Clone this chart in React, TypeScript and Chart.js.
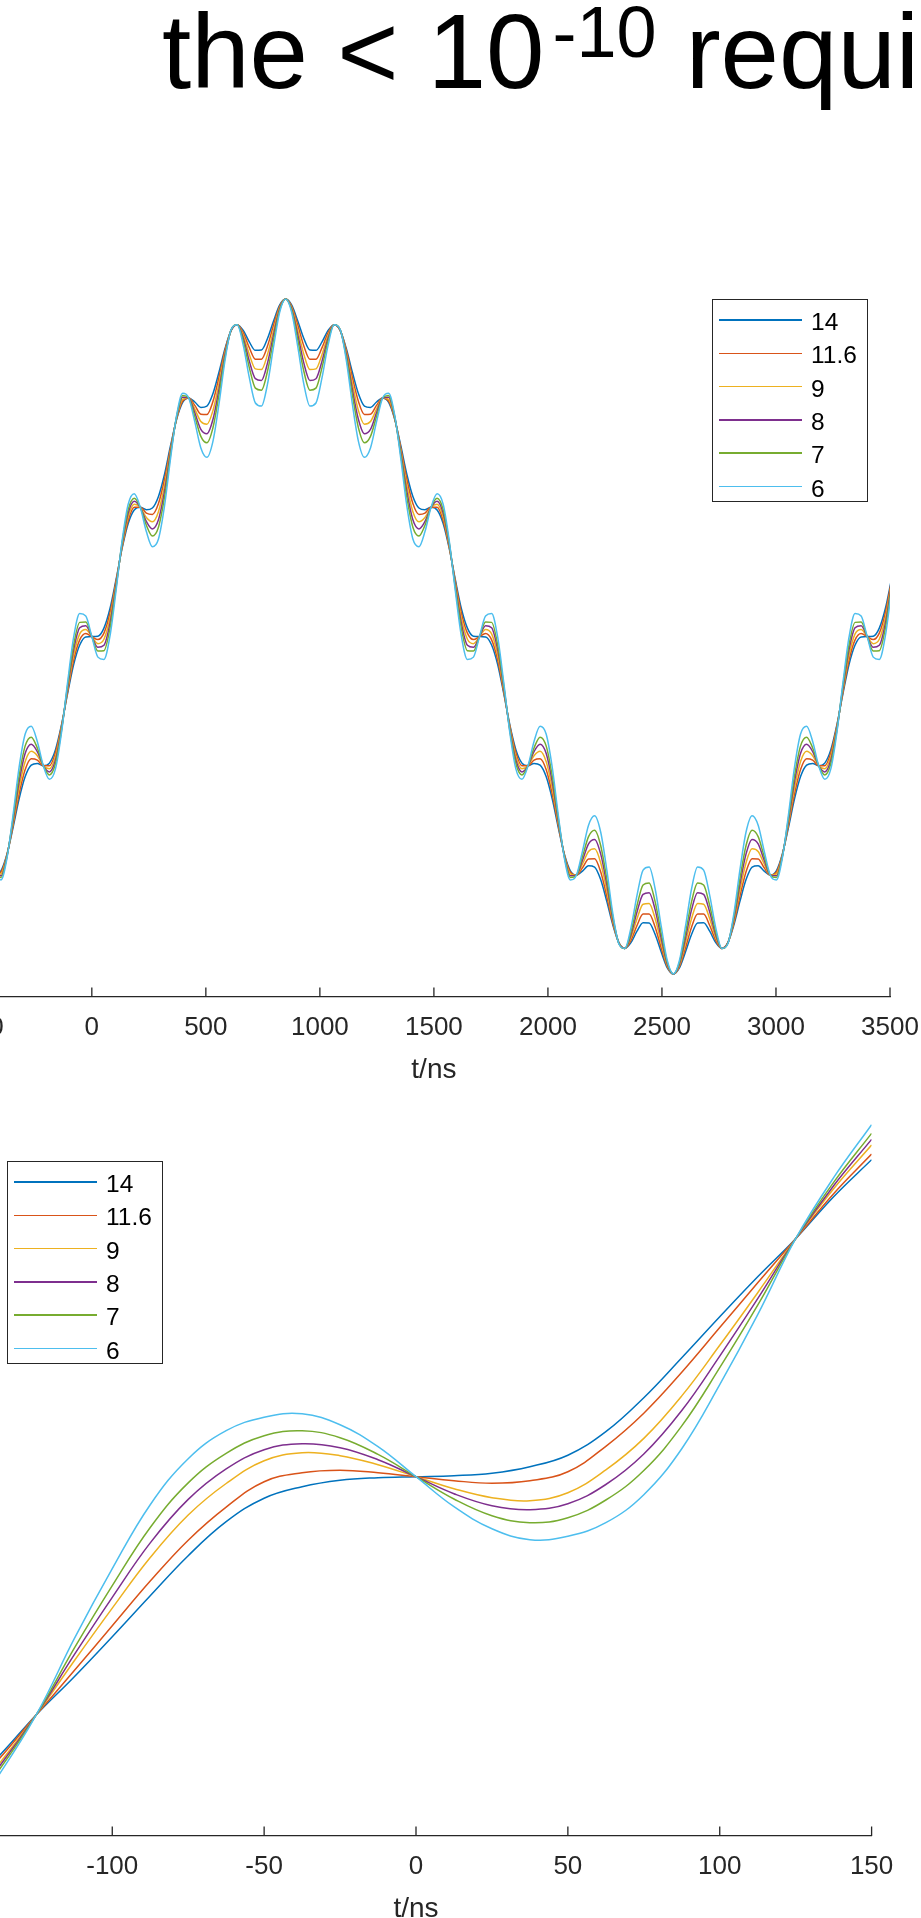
import React, { useEffect, useRef } from 'react';
import { Chart, registerables } from 'chart.js';

Chart.register(...registerables);

const FONT = "'Liberation Sans', Arial, Helvetica, sans-serif";
const AXIS_COLOR = '#262626';

const seriesLabels = ['14', '11.6', '9', '8', '7', '6'];
const seriesColors = ['#0072BD', '#D95319', '#EDB120', '#7E2F8E', '#77AC30', '#4DBEEE'];

// ---------- top plot (t in ns, normalized amplitude) ----------
const topTimes = [
  -425, -398.4, -371.9, -345.3, -318.8, -292.2, -265.6, -239.1,
  -212.5, -185.9, -159.4, -132.8, -106.3, -79.7, -53.1, -26.6,
  0, 26.6, 53.1, 79.7, 106.3, 132.8, 159.4, 185.9,
  212.5, 239.1, 265.6, 292.2, 318.8, 345.3, 371.9, 398.4,
  425, 451.6, 478.1, 504.7, 531.3, 557.8, 584.4, 610.9,
  637.5, 664.1, 690.6, 717.2, 743.8, 770.3, 796.9, 823.4,
  850, 876.6, 903.1, 929.7, 956.3, 982.8, 1009.4, 1035.9,
  1062.5, 1089.1, 1115.6, 1142.2, 1168.8, 1195.3, 1221.9, 1248.4,
  1275, 1301.6, 1328.1, 1354.7, 1381.3, 1407.8, 1434.4, 1460.9,
  1487.5, 1514.1, 1540.6, 1567.2, 1593.8, 1620.3, 1646.9, 1673.4,
  1700, 1726.6, 1753.1, 1779.7, 1806.3, 1832.8, 1859.4, 1885.9,
  1912.5, 1939.1, 1965.6, 1992.2, 2018.8, 2045.3, 2071.9, 2098.4,
  2125, 2151.6, 2178.1, 2204.7, 2231.3, 2257.8, 2284.4, 2310.9,
  2337.5, 2364.1, 2390.6, 2417.2, 2443.8, 2470.3, 2496.9, 2523.4,
  2550, 2576.6, 2603.1, 2629.7, 2656.3, 2682.8, 2709.4, 2735.9,
  2762.5, 2789.1, 2815.6, 2842.2, 2868.8, 2895.3, 2921.9, 2948.4,
  2975, 3001.6, 3028.1, 3054.7, 3081.3, 3107.8, 3134.4, 3160.9,
  3187.5, 3214.1, 3240.6, 3267.2, 3293.8, 3320.3, 3346.9, 3373.4,
  3400, 3426.6, 3453.1, 3479.7, 3506.3,
];

const top14 = [
  -0.707, -0.694, -0.644, -0.566, -0.481, -0.415, -0.381, -0.376, -0.383, -0.375, -0.335, -0.261, -0.169, -0.083, -0.025, -0.001,
  0, 0.001, 0.025, 0.083, 0.169, 0.261, 0.335, 0.375, 0.383, 0.376, 0.381, 0.415, 0.481, 0.566, 0.644, 0.694, 0.707, 0.695, 0.679, 0.683, 0.72, 0.784, 0.854, 0.907, 0.924, 0.907, 0.873, 0.848, 0.849, 0.883, 0.935, 0.982, 1,
  0.982, 0.935, 0.883, 0.849, 0.848, 0.873, 0.907, 0.924, 0.907, 0.854, 0.784, 0.72, 0.683, 0.679, 0.695, 0.707, 0.694, 0.644, 0.566, 0.481, 0.415, 0.381, 0.376, 0.383, 0.375, 0.335, 0.261, 0.169, 0.083, 0.025, 0.001, 0,
  -0.001, -0.025, -0.083, -0.169, -0.261, -0.335, -0.375, -0.383, -0.376, -0.381, -0.415, -0.481, -0.566, -0.644, -0.694, -0.707, -0.695, -0.679, -0.683, -0.72, -0.784, -0.854, -0.907, -0.924, -0.907, -0.873, -0.848, -0.849, -0.883, -0.935, -0.982, -1,
  -0.982, -0.935, -0.883, -0.849, -0.848, -0.873, -0.907, -0.924, -0.907, -0.854, -0.784, -0.72, -0.683, -0.679, -0.695, -0.707, -0.694, -0.644, -0.566, -0.481, -0.415, -0.381, -0.376, -0.383, -0.375, -0.335, -0.261, -0.169, -0.083, -0.025, -0.001, 0,
  0.001, 0.025, 0.083, 0.169,
];

const top11_6 = [
  -0.707, -0.698, -0.646, -0.559, -0.466, -0.394, -0.362, -0.366, -0.383, -0.383, -0.344, -0.265, -0.164, -0.07, -0.01, 0.009,
  0, -0.009, 0.01, 0.07, 0.164, 0.265, 0.344, 0.383, 0.383, 0.366, 0.362, 0.394, 0.466, 0.559, 0.646, 0.698, 0.707, 0.685, 0.659, 0.658, 0.697, 0.769, 0.849, 0.907, 0.924, 0.9, 0.856, 0.822, 0.822, 0.861, 0.923, 0.978, 1,
  0.978, 0.923, 0.861, 0.822, 0.822, 0.856, 0.9, 0.924, 0.907, 0.849, 0.769, 0.697, 0.658, 0.659, 0.685, 0.707, 0.698, 0.646, 0.559, 0.466, 0.394, 0.362, 0.366, 0.383, 0.383, 0.344, 0.265, 0.164, 0.07, 0.01, -0.009, 0,
  0.009, -0.01, -0.07, -0.164, -0.265, -0.344, -0.383, -0.383, -0.366, -0.362, -0.394, -0.466, -0.559, -0.646, -0.698, -0.707, -0.685, -0.659, -0.658, -0.697, -0.769, -0.849, -0.907, -0.924, -0.9, -0.856, -0.822, -0.822, -0.861, -0.923, -0.978, -1,
  -0.978, -0.923, -0.861, -0.822, -0.822, -0.856, -0.9, -0.924, -0.907, -0.849, -0.769, -0.697, -0.658, -0.659, -0.685, -0.707, -0.698, -0.646, -0.559, -0.466, -0.394, -0.362, -0.366, -0.383, -0.383, -0.344, -0.265, -0.164, -0.07, -0.01, 0.009, 0,
  -0.009, 0.01, 0.07, 0.164,
];

const top9 = [
  -0.707, -0.703, -0.648, -0.552, -0.448, -0.37, -0.34, -0.353, -0.383, -0.392, -0.355, -0.269, -0.157, -0.055, 0.008, 0.021,
  0, -0.021, -0.008, 0.055, 0.157, 0.269, 0.355, 0.392, 0.383, 0.353, 0.34, 0.37, 0.448, 0.552, 0.648, 0.703, 0.707, 0.674, 0.637, 0.629, 0.67, 0.751, 0.842, 0.908, 0.924, 0.892, 0.836, 0.793, 0.791, 0.836, 0.908, 0.974, 1,
  0.974, 0.908, 0.836, 0.791, 0.793, 0.836, 0.892, 0.924, 0.908, 0.842, 0.751, 0.67, 0.629, 0.637, 0.674, 0.707, 0.703, 0.648, 0.552, 0.448, 0.37, 0.34, 0.353, 0.383, 0.392, 0.355, 0.269, 0.157, 0.055, -0.008, -0.021, 0,
  0.021, 0.008, -0.055, -0.157, -0.269, -0.355, -0.392, -0.383, -0.353, -0.34, -0.37, -0.448, -0.552, -0.648, -0.703, -0.707, -0.674, -0.637, -0.629, -0.67, -0.751, -0.842, -0.908, -0.924, -0.892, -0.836, -0.793, -0.791, -0.836, -0.908, -0.974, -1,
  -0.974, -0.908, -0.836, -0.791, -0.793, -0.836, -0.892, -0.924, -0.908, -0.842, -0.751, -0.67, -0.629, -0.637, -0.674, -0.707, -0.703, -0.648, -0.552, -0.448, -0.37, -0.34, -0.353, -0.383, -0.392, -0.355, -0.269, -0.157, -0.055, 0.008, 0.021, 0,
  -0.021, -0.008, 0.055, 0.157,
];

const top8 = [
  -0.707, -0.709, -0.65, -0.545, -0.43, -0.346, -0.319, -0.341, -0.383, -0.401, -0.366, -0.274, -0.151, -0.039, 0.026, 0.032,
  0, -0.032, -0.026, 0.039, 0.151, 0.274, 0.366, 0.401, 0.383, 0.341, 0.319, 0.346, 0.43, 0.545, 0.65, 0.709, 0.707, 0.663, 0.614, 0.601, 0.644, 0.733, 0.836, 0.908, 0.924, 0.884, 0.816, 0.764, 0.759, 0.81, 0.894, 0.97, 1,
  0.97, 0.894, 0.81, 0.759, 0.764, 0.816, 0.884, 0.924, 0.908, 0.836, 0.733, 0.644, 0.601, 0.614, 0.663, 0.707, 0.709, 0.65, 0.545, 0.43, 0.346, 0.319, 0.341, 0.383, 0.401, 0.366, 0.274, 0.151, 0.039, -0.026, -0.032, 0,
  0.032, 0.026, -0.039, -0.151, -0.274, -0.366, -0.401, -0.383, -0.341, -0.319, -0.346, -0.43, -0.545, -0.65, -0.709, -0.707, -0.663, -0.614, -0.601, -0.644, -0.733, -0.836, -0.908, -0.924, -0.884, -0.816, -0.764, -0.759, -0.81, -0.894, -0.97, -1,
  -0.97, -0.894, -0.81, -0.759, -0.764, -0.816, -0.884, -0.924, -0.908, -0.836, -0.733, -0.644, -0.601, -0.614, -0.663, -0.707, -0.709, -0.65, -0.545, -0.43, -0.346, -0.319, -0.341, -0.383, -0.401, -0.366, -0.274, -0.151, -0.039, 0.026, 0.032, 0,
  -0.032, -0.026, 0.039, 0.151,
];

const top7 = [
  -0.707, -0.714, -0.652, -0.538, -0.413, -0.324, -0.298, -0.33, -0.383, -0.41, -0.376, -0.278, -0.145, -0.025, 0.042, 0.043,
  0, -0.043, -0.042, 0.025, 0.145, 0.278, 0.376, 0.41, 0.383, 0.33, 0.298, 0.324, 0.413, 0.538, 0.652, 0.714, 0.707, 0.652, 0.593, 0.574, 0.619, 0.717, 0.829, 0.909, 0.924, 0.876, 0.797, 0.736, 0.73, 0.786, 0.88, 0.966, 1,
  0.966, 0.88, 0.786, 0.73, 0.736, 0.797, 0.876, 0.924, 0.909, 0.829, 0.717, 0.619, 0.574, 0.593, 0.652, 0.707, 0.714, 0.652, 0.538, 0.413, 0.324, 0.298, 0.33, 0.383, 0.41, 0.376, 0.278, 0.145, 0.025, -0.042, -0.043, 0,
  0.043, 0.042, -0.025, -0.145, -0.278, -0.376, -0.41, -0.383, -0.33, -0.298, -0.324, -0.413, -0.538, -0.652, -0.714, -0.707, -0.652, -0.593, -0.574, -0.619, -0.717, -0.829, -0.909, -0.924, -0.876, -0.797, -0.736, -0.73, -0.786, -0.88, -0.966, -1,
  -0.966, -0.88, -0.786, -0.73, -0.736, -0.797, -0.876, -0.924, -0.909, -0.829, -0.717, -0.619, -0.574, -0.593, -0.652, -0.707, -0.714, -0.652, -0.538, -0.413, -0.324, -0.298, -0.33, -0.383, -0.41, -0.376, -0.278, -0.145, -0.025, 0.042, 0.043, 0,
  -0.043, -0.042, 0.025, 0.145,
];

const top6 = [
  -0.707, -0.721, -0.656, -0.528, -0.387, -0.289, -0.266, -0.311, -0.383, -0.423, -0.392, -0.284, -0.136, -0.002, 0.068, 0.061,
  0, -0.061, -0.068, 0.002, 0.136, 0.284, 0.392, 0.423, 0.383, 0.311, 0.266, 0.289, 0.387, 0.528, 0.656, 0.721, 0.707, 0.636, 0.559, 0.531, 0.579, 0.69, 0.82, 0.91, 0.924, 0.863, 0.767, 0.692, 0.683, 0.748, 0.859, 0.96, 1,
  0.96, 0.859, 0.748, 0.683, 0.692, 0.767, 0.863, 0.924, 0.91, 0.82, 0.69, 0.579, 0.531, 0.559, 0.636, 0.707, 0.721, 0.656, 0.528, 0.387, 0.289, 0.266, 0.311, 0.383, 0.423, 0.392, 0.284, 0.136, 0.002, -0.068, -0.061, 0,
  0.061, 0.068, -0.002, -0.136, -0.284, -0.392, -0.423, -0.383, -0.311, -0.266, -0.289, -0.387, -0.528, -0.656, -0.721, -0.707, -0.636, -0.559, -0.531, -0.579, -0.69, -0.82, -0.91, -0.924, -0.863, -0.767, -0.692, -0.683, -0.748, -0.859, -0.96, -1,
  -0.96, -0.859, -0.748, -0.683, -0.692, -0.767, -0.863, -0.924, -0.91, -0.82, -0.69, -0.579, -0.531, -0.559, -0.636, -0.707, -0.721, -0.656, -0.528, -0.387, -0.289, -0.266, -0.311, -0.383, -0.423, -0.392, -0.284, -0.136, -0.002, 0.068, 0.061, 0,
  -0.061, -0.068, 0.002, 0.136,
];

const topTickValues = [-500, 0, 500, 1000, 1500, 2000, 2500, 3000, 3500];

// ---------- bottom plot (t in ns, mV) ----------
const bottomTimes = [-150, -137.5, -125, -112.5, -100, -87.5, -75, -62.5, -50, -37.5, -25, -12.5, 0, 12.5, 25, 37.5, 50, 62.5, 75, 87.5, 100, 112.5, 125, 137.5, 150];
const bottom14 = [-317, -280, -238, -200, -160, -119, -79, -45, -21.5, -10, -3.5, -1, 0, 1, 3.5, 10, 21.5, 45, 79, 119, 160, 200, 238, 280, 317];
const bottom11_6 = [-322.6, -283, -238, -193.9, -149.1, -104.4, -63.5, -30.4, -5, 4, 6.5, 4, 0, -4, -6.5, -4, 5, 30.4, 63.5, 104.4, 149.1, 193.9, 238, 283, 322.6];
const bottom9 = [-331.7, -288, -238, -184, -131.4, -80.8, -38.3, -6.8, 16, 24, 21, 12, 0, -12, -21, -24, -16, 6.8, 38.3, 80.8, 131.4, 184, 238, 288, 331.7];
const bottom8 = [-337.3, -291, -238, -178, -120.6, -66.2, -22.7, 7.8, 27, 33, 29, 17, 0, -17, -29, -33, -27, -7.8, 22.7, 66.2, 120.6, 178, 238, 291, 337.3];
const bottom7 = [-343.3, -294.3, -238, -171.5, -109, -50.8, -6.2, 23.3, 41, 46, 39, 22.3, 0, -22.3, -39, -46, -41, -23.3, 6.2, 50.8, 109, 171.5, 238, 294.3, 343.3];
const bottom6 = [-352, -299, -238, -162, -92, -28, 18, 46, 59.5, 63, 52, 30, 0, -30, -52, -63, -59.5, -46, -18, 28, 92, 162, 238, 299, 352];
const bottomTickValues = [-150, -100, -50, 0, 50, 100, 150];

// MATLAB-style inward tick marks on the x axis
const inwardTicks = {
  id: 'inwardTicks',
  afterDraw(chart: any) {
    const s = chart.scales.x;
    const ctx = chart.ctx;
    ctx.save();
    ctx.strokeStyle = AXIS_COLOR;
    ctx.lineWidth = 1.3;
    ctx.beginPath();
    s.ticks.forEach((t: any) => {
      const px = s.getPixelForValue(t.value);
      ctx.moveTo(px, s.top);
      ctx.lineTo(px, s.top - 9.5);
    });
    ctx.stroke();
    ctx.restore();
  },
};

function buildConfig(
  times: number[],
  series: number[][],
  tickValues: number[],
  xMin: number,
  xMax: number,
  yMin: number,
  yMax: number,
  padding: { left: number; right: number; top: number; bottom: number },
  smooth: 'monotone' | 'default'
): any {
  return {
    type: 'line',
    data: {
      datasets: series.map((ys, i) => ({
        label: seriesLabels[i],
        data: times.map((t, j) => ({ x: t, y: ys[j] })),
        borderColor: seriesColors[i],
        backgroundColor: seriesColors[i],
        borderWidth: 1.5,
        pointRadius: 0,
        fill: false,
        cubicInterpolationMode: smooth,
        tension: 0.4,
        order: series.length - i,
      })),
    },
    options: {
      animation: false,
      responsive: false,
      devicePixelRatio: 1,
      events: [],
      layout: { padding },
      plugins: { legend: { display: false }, tooltip: { enabled: false }, title: { display: false } },
      scales: {
        x: {
          type: 'linear',
          min: xMin,
          max: xMax,
          afterBuildTicks: (axis: any) => {
            axis.ticks = tickValues.map((v) => ({ value: v }));
          },
          afterFit: (axis: any) => {
            axis.height = 100;
          },
          grid: { display: false, drawTicks: false },
          border: { display: true, color: AXIS_COLOR, width: 1.3 },
          ticks: {
            autoSkip: false,
            maxRotation: 0,
            minRotation: 0,
            padding: 15.7,
            color: AXIS_COLOR,
            font: { family: FONT, size: 26 },
            callback: (v: any) => String(v),
          },
          title: {
            display: true,
            text: 't/ns',
            color: AXIS_COLOR,
            font: { family: FONT, size: 28 },
            padding: { top: 0, bottom: 9.7 },
          },
        },
        y: { type: 'linear', display: false, min: yMin, max: yMax },
      },
    },
    plugins: [inwardTicks],
  };
}

function ChartCanvas(props: { left: number; top: number; width: number; height: number; config: any }) {
  const ref = useRef<HTMLCanvasElement | null>(null);
  useEffect(() => {
    if (!ref.current) return;
    const chart = new Chart(ref.current, props.config);
    return () => chart.destroy();
  }, []);
  return (
    <canvas
      ref={ref}
      width={props.width}
      height={props.height}
      style={{ position: 'absolute', left: props.left, top: props.top, width: props.width, height: props.height, display: 'block' }}
    />
  );
}

function Legend(props: { left: number; top: number }) {
  return (
    <div
      style={{
        position: 'absolute',
        left: props.left,
        top: props.top,
        width: 153.5,
        height: 201,
        border: `1px solid ${AXIS_COLOR}`,
        background: '#ffffff',
      }}
    >
      {seriesLabels.map((label, i) => (
        <div
          key={label}
          style={{ position: 'absolute', left: 6, top: 5 + i * 33.3, height: 30, display: 'flex', alignItems: 'center' }}
        >
          <div style={{ width: 83, height: 1.5, background: seriesColors[i] }} />
          <span
            style={{
              marginLeft: 9,
              fontFamily: FONT,
              fontSize: 24.5,
              lineHeight: '30px',
              color: '#000',
              position: 'relative',
              top: 2,
            }}
          >
            {label}
          </span>
        </div>
      ))}
    </div>
  );
}

export default function App() {
  const topConfig = buildConfig(
    topTimes,
    [top14, top11_6, top9, top8, top7, top6],
    topTickValues,
    -500,
    3500,
    -1.068,
    1.2,
    { left: 57.8, right: 70, top: 81.55, bottom: 53 },
    'monotone'
  );
  const bottomConfig = buildConfig(
    bottomTimes,
    [bottom14, bottom11_6, bottom9, bottom8, bottom7, bottom6],
    bottomTickValues,
    -150,
    150,
    -359.3,
    380,
    { left: 60.4, right: 88.4, top: 96.7, bottom: 24 },
    'default'
  );
  return (
    <div style={{ position: 'fixed', left: 0, top: 0, width: 921, height: 1918, overflow: 'hidden', background: '#ffffff' }}>
      <div
        style={{
          position: 'absolute',
          left: 162,
          top: -0.6,
          fontFamily: FONT,
          fontSize: 105,
          lineHeight: '105px',
          whiteSpace: 'nowrap',
          color: '#000',
        }}
      >
        {'the < 10'}
        <span style={{ fontSize: 72, lineHeight: '72px', position: 'relative', top: -31, marginLeft: 8 }}>-10</span>
        {' requi'}
      </div>
      <ChartCanvas left={-80} top={150} width={1040} height={1000} config={topConfig} />
      <Legend left={712} top={299} />
      <ChartCanvas left={-100} top={1000} width={1060} height={960} config={bottomConfig} />
      <Legend left={7} top={1161} />
    </div>
  );
}
